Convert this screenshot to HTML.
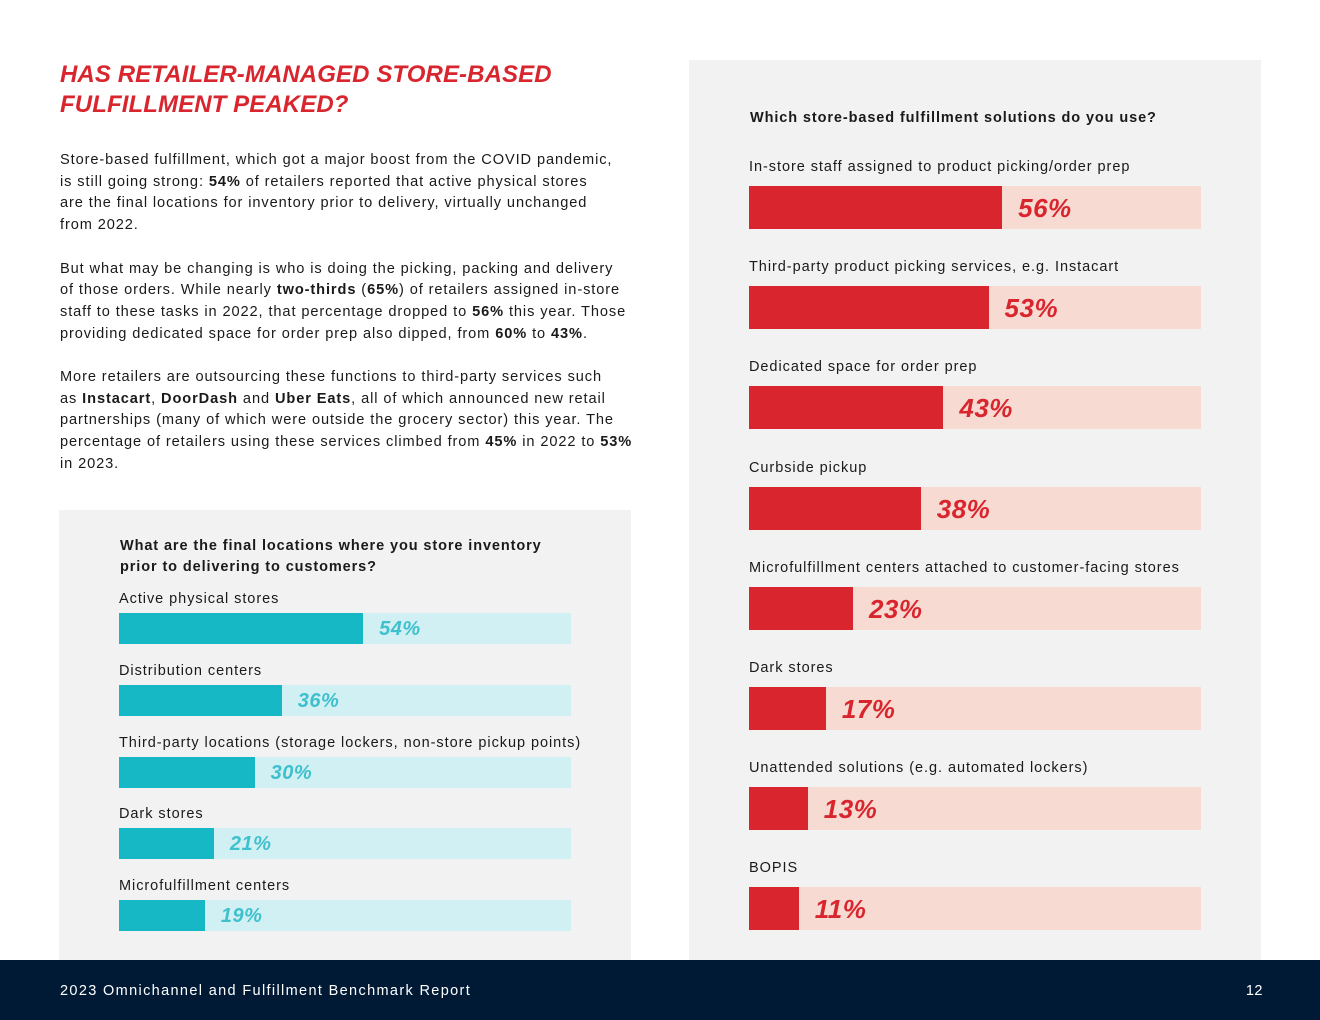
<!DOCTYPE html>
<html><head><meta charset="utf-8">
<style>
body{margin:0;width:1320px;height:1020px;position:relative;background:#fff;font-family:"Liberation Sans",sans-serif;overflow:hidden;color:#1a1a1a}
.title{position:absolute;left:60px;top:60px;color:#d9262e;font-weight:bold;font-style:italic;font-size:24px;line-height:30px;letter-spacing:0.1px}
.body{position:absolute;left:60px;top:150px;font-size:14.6px;line-height:21.7px;letter-spacing:0.9px;white-space:nowrap}
.body p{margin:0 0 21.7px 0}
.panel{position:absolute;background:#f2f2f2}
.q{position:absolute;font-weight:bold;font-size:14.5px;line-height:21px;letter-spacing:0.9px;white-space:nowrap}
.lab{position:absolute;font-size:14.5px;letter-spacing:0.95px;white-space:nowrap}
.track{position:absolute}
.fill{position:absolute;left:0;top:0;height:100%}
.pct{position:absolute;font-weight:bold;font-style:italic;white-space:nowrap;letter-spacing:0.5px}
.footer{position:absolute;left:0;top:960px;width:1320px;height:60px;background:#001a36;color:#fff;font-size:14.5px;letter-spacing:1.35px}
</style></head><body>
<div class="title">HAS RETAILER-MANAGED STORE-BASED<br>FULFILLMENT PEAKED?</div>
<div class="body">
<p>Store-based fulfillment, which got a major boost from the COVID pandemic,<br>is still going strong: <b>54%</b> of retailers reported that active physical stores<br>are the final locations for inventory prior to delivery, virtually unchanged<br>from 2022.</p>
<p>But what may be changing is who is doing the picking, packing and delivery<br>of those orders. While nearly <b>two-thirds</b> (<b>65%</b>) of retailers assigned in-store<br>staff to these tasks in 2022, that percentage dropped to <b>56%</b> this year. Those<br>providing dedicated space for order prep also dipped, from <b>60%</b> to <b>43%</b>.</p>
<p>More retailers are outsourcing these functions to third-party services such<br>as <b>Instacart</b>, <b>DoorDash</b> and <b>Uber Eats</b>, all of which announced new retail<br>partnerships (many of which were outside the grocery sector) this year. The<br>percentage of retailers using these services climbed from <b>45%</b> in 2022 to <b>53%</b><br>in 2023.</p>
</div>
<div class="panel" id="leftPanel" style="left:59px;top:510px;width:572px;height:450px">
<div class="q" style="left:61px;top:26px">What are the final locations where you store inventory<br>prior to delivering to customers?</div>
</div>
<div class="panel" id="rightPanel" style="left:689px;top:60px;width:572px;height:900px">
<div class="q" style="left:61px;top:48px">Which store-based fulfillment solutions do you use?</div>
</div>
<div class="footer">
<span style="position:absolute;left:60px;top:23px">2023 Omnichannel and Fulfillment Benchmark Report</span>
<span style="position:absolute;right:57px;top:23px;letter-spacing:0.5px">12</span>
</div>
<script>
const leftCategories=["Active physical stores","Distribution centers","Third-party locations (storage lockers, non-store pickup points)","Dark stores","Microfulfillment centers"];
const leftValues=[54,36,30,21,19];
const rightCategories=["In-store staff assigned to product picking/order prep","Third-party product picking services, e.g. Instacart","Dedicated space for order prep","Curbside pickup","Microfulfillment centers attached to customer-facing stores","Dark stores","Unattended solutions (e.g. automated lockers)","BOPIS"];
const rightValues=[56,53,43,38,23,17,13,11];

function drawChart(panel,cats,vals,o){
  const x=v=>v/100*o.width;
  cats.forEach((c,i)=>{
    const y0=o.top+i*o.step;
    const l=document.createElement('div');
    l.className='lab';l.textContent=c;
    l.style.left=o.left+'px';l.style.top=(y0-o.labOff)+'px';
    
    
    panel.appendChild(l);
    const t=document.createElement('div');
    t.className='track';
    t.style.left=o.left+'px';t.style.top=y0+'px';t.style.width=o.width+'px';t.style.height=o.h+'px';t.style.background=o.bg;
    
    
    const f=document.createElement('div');
    f.className='fill';f.style.width=x(vals[i])+'px';f.style.background=o.fg;
    
    
    t.appendChild(f);
    const p=document.createElement('div');
    p.className='pct';p.textContent=vals[i]+'%';
    p.style.left=(x(vals[i])+o.pad)+'px';p.style.top='1px';p.style.lineHeight=o.h+'px';
    p.style.fontSize=o.fs+'px';p.style.color=o.tc;
    
    
    t.appendChild(p);
    panel.appendChild(t);
  });
}
drawChart(document.getElementById('leftPanel'),leftCategories,leftValues,{left:60,top:103,step:71.8,h:31,width:452,labOff:22,bg:'#d1f0f4',fg:'#17b8c6',tc:'#3fc0cd',fs:20,pad:16});
drawChart(document.getElementById('rightPanel'),rightCategories,rightValues,{left:60,top:126,step:100.2,h:43,width:452,labOff:27,bg:'#f7dad2',fg:'#d9262e',tc:'#d9262e',fs:26,pad:16});
</script>
</body></html>
